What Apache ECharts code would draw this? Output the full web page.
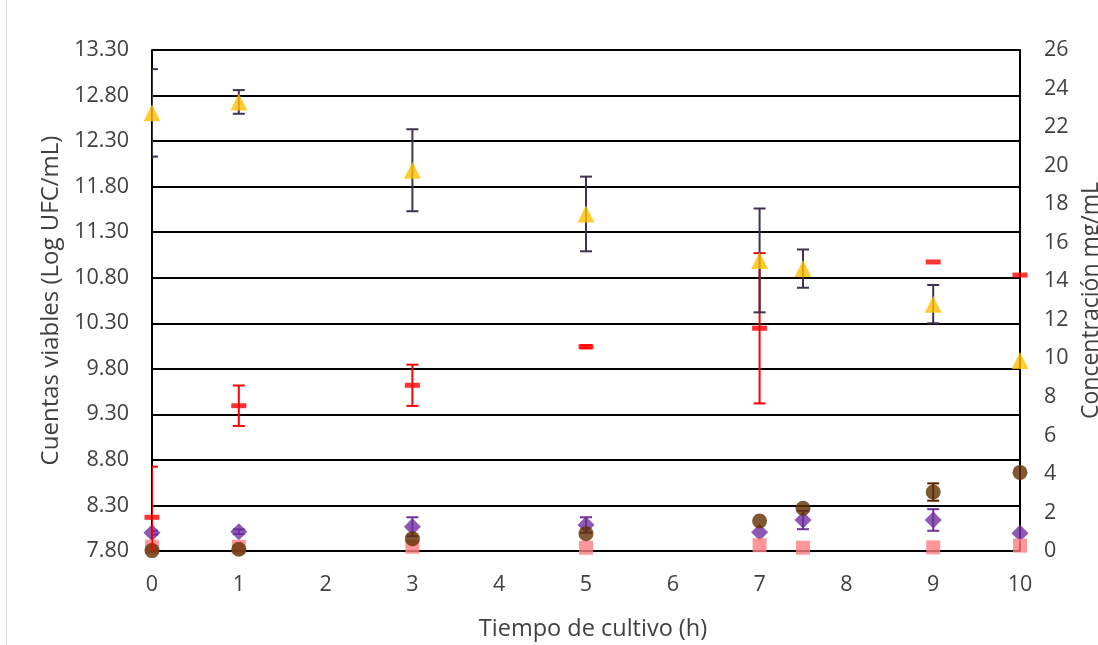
<!DOCTYPE html>
<html>
<head>
<meta charset="utf-8">
<script src="https://cdn.jsdelivr.net/npm/echarts@6/dist/echarts.min.js"></script>
<style>html,body{margin:0;padding:0;background:#fff;overflow:hidden;width:1098px;height:645px}#c{width:1098px;height:645px;position:absolute;left:0;top:0}</style>
</head>
<body>
<div id="c"></div>
<script>
// Tiempo de cultivo (h)
const hours = [0, 1, 3, 5, 7, 7.5, 9, 10];
const redHours = [0, 1, 3, 5, 7, 9, 10];

// Cuentas viables (Log UFC/mL) - left axis
const ufc = [12.61, 12.73, 11.98, 11.50, 10.99, 10.90, 10.51, 9.89];
const ufcErr = [0.48, 0.13, 0.45, 0.41, 0.57, 0.21, 0.21, 0];

// Concentración mg/mL - right axis
const redVals = [1.75, 7.54, 8.60, 10.60, 11.56, 15.00, 14.32];
const redErr = [2.63, 1.05, 1.07, 0.08, 3.90, 0, 0];
const brownVals = [0.02, 0.09, 0.64, 0.90, 1.56, 2.22, 3.06, 4.08];
const brownErr = [0, 0, 0, 0, 0, 0, 0.45, 0];
const purpleVals = [0.95, 1.00, 1.26, 1.35, 0.97, 1.61, 1.61, 0.92];
const purpleErr = [0.10, 0.12, 0.49, 0.40, 0, 0.48, 0.56, 0];
const pinkVals = [0.22, 0.22, 0.22, 0.17, 0.30, 0.17, 0.19, 0.28];

// axis ticks
const leftMin = 7.8, leftMax = 13.3, leftStep = 0.5;
const rightMin = 0, rightMax = 26, rightStep = 2;
const xMin = 0, xMax = 10, xStep = 1;

const FONT = 'Open Sans';
const TXT = '#404040';

function pts(xs, ys) { return xs.map((x, i) => [x, ys[i]]); }

function errSeries(name, xs, ys, es, color, yAxisIndex, z) {
  const data = [];
  xs.forEach((x, i) => { if (es[i] > 0) data.push([x, ys[i] - es[i], ys[i] + es[i]]); });
  return {
    name: name, type: 'custom', yAxisIndex: yAxisIndex, z: z, clip: true, silent: true,
    data: data,
    encode: { x: 0, y: [1, 2] },
    renderItem: function (params, api) {
      const x = api.value(0), lo = api.value(1), hi = api.value(2);
      const p1 = api.coord([x, hi]), p2 = api.coord([x, lo]);
      const w = 6;
      const style = { stroke: color, lineWidth: 2, fill: null };
      return {
        type: 'group',
        children: [
          { type: 'line', shape: { x1: p1[0], y1: p1[1], x2: p2[0], y2: p2[1] }, style: style },
          { type: 'line', shape: { x1: p1[0] - w, y1: p1[1], x2: p1[0] + w, y2: p1[1] }, style: style },
          { type: 'line', shape: { x1: p2[0] - w, y1: p2[1], x2: p2[0] + w, y2: p2[1] }, style: style }
        ]
      };
    }
  };
}

const chart = echarts.init(document.getElementById('c'), null, { renderer: 'canvas', width: 1098, height: 645 });
chart.setOption({
  animation: false,
  backgroundColor: '#fff',
  textStyle: { fontFamily: FONT },
  grid: { left: 152, right: 78, top: 50, bottom: 94, containLabel: false, outerBoundsMode: 'none' },
  graphic: [
    { type: 'line', shape: { x1: 6.5, y1: 0, x2: 6.5, y2: 645 }, style: { stroke: '#d9d9d9', lineWidth: 1 }, silent: true }
  ],
  xAxis: {
    type: 'value', min: xMin, max: xMax, interval: xStep,
    name: 'Tiempo de cultivo (h)', nameLocation: 'middle', nameGap: 66,
    nameTextStyle: { fontFamily: FONT, fontSize: 23.5, color: TXT, padding: [0, 0, 0, 14] },
    axisLine: { show: true, onZero: false, lineStyle: { color: '#000', width: 2 } },
    axisTick: { show: false },
    splitLine: { show: false },
    axisLabel: { fontFamily: FONT, fontSize: 21.5, color: TXT, margin: 23 }
  },
  yAxis: [
    {
      type: 'value', min: leftMin, max: leftMax, interval: leftStep, position: 'left',
      name: 'Cuentas viables (Log UFC/mL)', nameLocation: 'middle', nameGap: 85,
      nameTextStyle: { fontFamily: FONT, fontSize: 24, color: TXT },
      axisLine: { show: true, lineStyle: { color: '#000', width: 2 } },
      axisTick: { show: false },
      splitLine: { show: true, lineStyle: { color: '#000', width: 2 } },
      axisLabel: { fontFamily: FONT, fontSize: 21.5, color: TXT, margin: 23,
        formatter: v => Number(v).toFixed(2) }
    },
    {
      type: 'value', min: rightMin, max: rightMax, interval: rightStep, position: 'right',
      name: 'Concentración mg/mL', nameLocation: 'middle', nameGap: 56, nameRotate: 90,
      nameTextStyle: { fontFamily: FONT, fontSize: 23, color: TXT },
      axisLine: { show: true, lineStyle: { color: '#000', width: 2 } },
      axisTick: { show: false },
      splitLine: { show: false },
      axisLabel: { fontFamily: FONT, fontSize: 21.5, color: TXT, margin: 24 }
    }
  ],
  series: [
    errSeries('err-purple', hours, purpleVals, purpleErr, '#7030A0', 1, 2),
    { name: 'Morado', type: 'scatter', yAxisIndex: 1, z: 3, symbol: 'diamond', symbolSize: 17,
      itemStyle: { color: '#7030A0' }, data: pts(hours, purpleVals) },
    { name: 'Rosa', type: 'scatter', yAxisIndex: 1, z: 4, symbol: 'rect', symbolSize: 14,
      itemStyle: { color: '#FF7C80' }, data: pts(hours, pinkVals) },
    errSeries('err-brown', hours, brownVals, brownErr, '#5A1E00', 1, 5),
    { name: 'Café', type: 'scatter', yAxisIndex: 1, z: 6, symbol: 'circle', symbolSize: 15,
      itemStyle: { color: '#603000' }, data: pts(hours, brownVals) },
    errSeries('err-red', redHours, redVals, redErr, '#FF0000', 1, 7),
    { name: 'Rojo', type: 'scatter', yAxisIndex: 1, z: 8, symbol: 'rect', symbolSize: [15, 5],
      itemStyle: { color: '#FF0000' }, data: pts(redHours, redVals) },
    errSeries('err-ufc', hours, ufc, ufcErr, '#403151', 0, 9),
    { name: 'UFC', type: 'scatter', yAxisIndex: 0, z: 10, symbol: 'triangle', symbolSize: 17,
      itemStyle: { color: '#FFC000' }, data: pts(hours, ufc) }
  ]
});
</script>
</body>
</html>
